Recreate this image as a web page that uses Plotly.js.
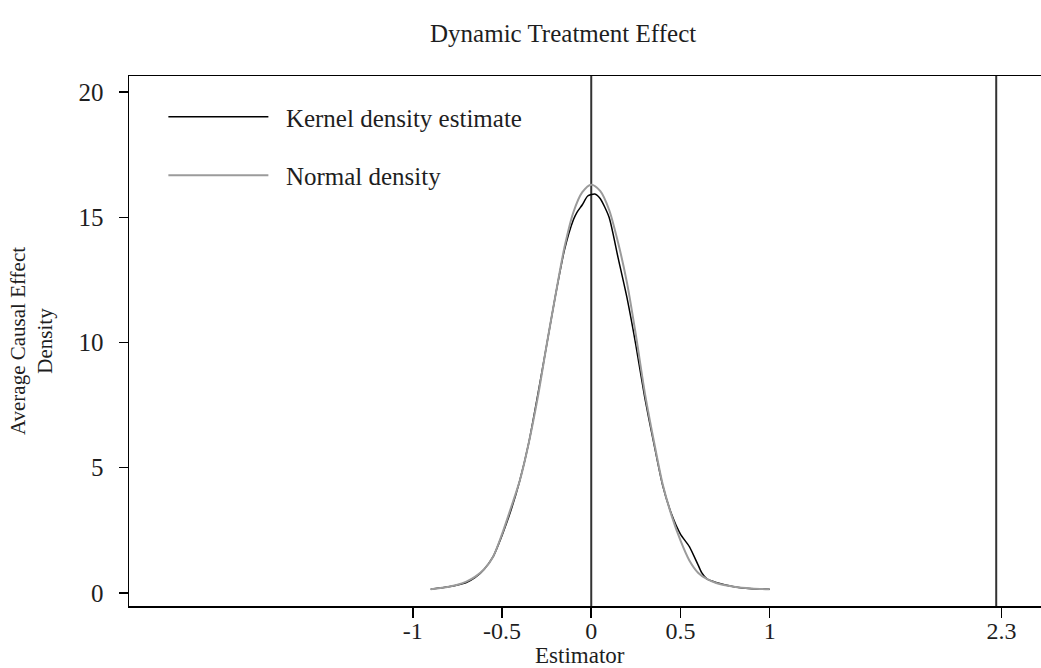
<!DOCTYPE html>
<html>
<head>
<meta charset="utf-8">
<script src="https://cdn.plot.ly/plotly-3.0.1.min.js"></script>
<style>html,body{margin:0;padding:0;background:#fff;}#chart{width:1041px;height:668px;}</style>
</head>
<body>
<div id="chart"></div>
<script>
// Kernel density estimate (black)
const kernelX = [-0.9,-0.8,-0.75,-0.7,-0.65,-0.6,-0.55,-0.5,-0.45,-0.4,-0.35,-0.3,-0.25,-0.2,-0.15,-0.1,-0.08,-0.05,-0.02,0.02,0.05,0.1,0.15,0.2,0.25,0.3,0.35,0.4,0.45,0.5,0.55,0.6,0.62,0.65,0.7,0.8,0.9,1.0];
const kernelY = [0.15,0.25,0.32,0.42,0.62,0.95,1.45,2.3,3.3,4.5,6.0,7.9,9.9,11.9,13.7,14.9,15.2,15.5,15.85,15.93,15.75,15.0,13.4,11.8,9.9,7.8,6.0,4.3,3.15,2.35,1.85,1.1,0.8,0.55,0.42,0.25,0.17,0.15];
// Normal density (gray)
const normalX = [-0.9,-0.8,-0.75,-0.7,-0.65,-0.6,-0.55,-0.5,-0.45,-0.4,-0.35,-0.3,-0.25,-0.2,-0.15,-0.1,-0.05,0,0.05,0.1,0.15,0.2,0.25,0.3,0.35,0.4,0.45,0.5,0.55,0.6,0.65,0.7,0.8,0.9,1.0];
const normalY = [0.15,0.25,0.33,0.45,0.65,0.95,1.45,2.35,3.4,4.5,6.0,7.8,9.9,11.9,13.8,15.2,16.0,16.3,16.05,15.3,14.0,12.4,10.3,8.0,6.1,4.35,3.1,2.1,1.3,0.8,0.55,0.4,0.25,0.18,0.15];
// Reference lines
const refLines = [0, 2.27];
// Tick labels
const xTickVals = [-1,-0.5,0,0.5,1,2.3];
const xTickText = ['-1','-0.5','0','0.5','1','2.3'];
const yTickVals = [0,5,10,15,20];
const yTickText = ['0','5','10','15','20'];
const seriesNames = ['Kernel density estimate','Normal density'];
const xTitle = 'Estimator';

const FONT = 'Liberation Serif, Times New Roman, serif';
const FS = 25;
const TXT = '#1e1e1e';

const traces = [
  {x: kernelX, y: kernelY, type:'scatter', mode:'lines', name: '\u00a0\u00a0' + seriesNames[0],
   line:{color:'#000000', width:1.5, shape:'spline', smoothing:0.6}, legendgroup:'a'},
  {x: normalX, y: normalY, type:'scatter', mode:'lines', name: '\u00a0\u00a0' + seriesNames[1],
   line:{color:'#9b9b9b', width:2, shape:'spline', smoothing:0.8}, legendgroup:'b'}
];

const shapes = refLines.map(v => ({type:'line', xref:'x', yref:'paper', x0:v, x1:v, y0:0, y1:1,
  line:{color:'#333333', width:2}, layer:'below'}));

const layout = {
  width:1041, height:668,
  margin:{l:129, r:0, t:76, b:62},
  paper_bgcolor:'#ffffff', plot_bgcolor:'#ffffff',
  font:{family:FONT, size:FS, color:TXT},
  title:{text:'Dynamic Treatment Effect', font:{family:FONT, size:FS, color:TXT},
    xref:'paper', x:0.476, xanchor:'center', yref:'container', y:0.95, yanchor:'middle'},
  showlegend:true,
  legend:{x:0.0377, y:0.966, xanchor:'left', yanchor:'top', bgcolor:'rgba(0,0,0,0)',
    itemwidth:100, tracegroupgap:23, font:{family:FONT, size:FS, color:TXT}},
  xaxis:{range:[-2.591, 2.521], tickvals:xTickVals, ticktext:xTickText,
    showgrid:false, zeroline:false, showline:true, linecolor:'#000', linewidth:1.5, mirror:true,
    ticks:'outside', ticklen:10, tickwidth:1.5, tickcolor:'#000', ticklabelstandoff:-7,
    tickfont:{family:FONT, size:24, color:TXT}},
  yaxis:{range:[-0.52, 20.64], tickvals:yTickVals, ticktext:yTickText,
    showgrid:false, zeroline:false, showline:true, linecolor:'#000', linewidth:1.5,
    ticks:'outside', ticklen:9, tickwidth:1.5, tickcolor:'#000', ticklabelstandoff:10,
    tickfont:{family:FONT, size:FS, color:TXT},
    title:{text:'Average Causal Effect<br>Density', font:{family:FONT, size:21, color:TXT}, standoff:20}},
  annotations:[{text:xTitle, xref:'paper', yref:'paper', x:0.4945, y:-0.0925, xanchor:'center', yanchor:'middle',
    showarrow:false, font:{family:FONT, size:23, color:TXT}}],
  shapes: shapes
};

Plotly.newPlot('chart', traces, layout, {displayModeBar:false, staticPlot:true});
</script>
</body>
</html>
